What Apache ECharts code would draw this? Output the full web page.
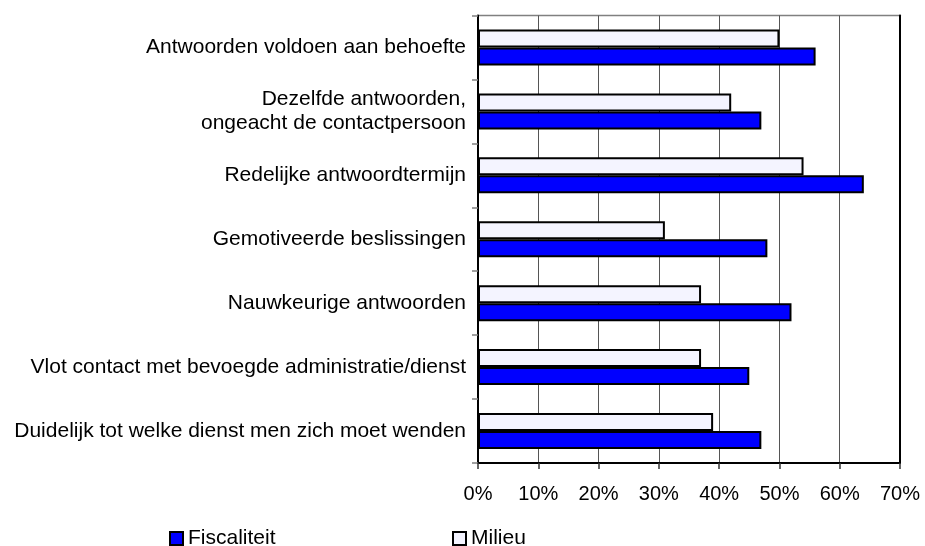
<!DOCTYPE html>
<html>
<head>
<meta charset="utf-8">
<script src="https://cdn.jsdelivr.net/npm/echarts@6/dist/echarts.min.js"></script>
<style>
html,body{margin:0;padding:0;background:#fff;}
#chart{width:925px;height:546px;}
</style>
</head>
<body>
<div id="chart"></div>
<script>
var categories = [
  'Antwoorden voldoen aan behoefte',
  'Dezelfde antwoorden,\nongeacht de contactpersoon',
  'Redelijke antwoordtermijn',
  'Gemotiveerde beslissingen',
  'Nauwkeurige antwoorden',
  'Vlot contact met bevoegde administratie/dienst',
  'Duidelijk tot welke dienst men zich moet wenden'
];
var fiscaliteit = [56, 47, 64, 48, 52, 45, 47];
var milieu = [50, 42, 54, 31, 37, 37, 39];
var xTicks = [0, 10, 20, 30, 40, 50, 60, 70];

var FONT = '"Liberation Sans", Arial, Helvetica, sans-serif';
var chart = echarts.init(document.getElementById('chart'), null, {renderer: 'canvas'});
var legendText = {fontSize: 21, color: '#000', fontFamily: FONT};
chart.setOption({
  animation: false,
  backgroundColor: '#fff',
  grid: {
    left: 478, right: 25, top: 15.5, bottom: 83,
    show: true, borderColor: '#808080', borderWidth: 1.5, backgroundColor: 'transparent'
  },
  legend: [
    {data: ['Fiscaliteit'], left: 164, top: 523, itemWidth: 13, itemHeight: 13,
     icon: 'rect', textStyle: legendText, itemStyle: {borderColor: '#000', borderWidth: 2}},
    {data: ['Milieu'], left: 447, top: 523, itemWidth: 13, itemHeight: 13,
     icon: 'rect', textStyle: legendText, itemStyle: {borderColor: '#000', borderWidth: 2}}
  ],
  xAxis: {
    type: 'value', min: xTicks[0], max: xTicks[xTicks.length - 1], interval: 10,
    axisLine: {show: true, lineStyle: {color: '#000', width: 2}},
    axisTick: {show: true, length: 6, lineStyle: {color: '#333', width: 1.5}},
    axisLabel: {formatter: '{value}%', fontSize: 20, color: '#000', fontFamily: FONT, margin: 21},
    splitLine: {show: true, lineStyle: {color: '#555', width: 1}}
  },
  yAxis: [
    {
      type: 'category', data: categories, inverse: true,
      axisLine: {show: true, lineStyle: {color: '#000', width: 2}},
      axisTick: {show: true, length: 6, lineStyle: {color: '#808080', width: 1.5}},
      axisLabel: {fontSize: 21, color: '#000', fontFamily: FONT, margin: 12, lineHeight: 24}
    },
    {
      type: 'category', data: categories, inverse: true, position: 'right',
      axisLine: {show: true, lineStyle: {color: '#000', width: 2}},
      axisTick: {show: false}, axisLabel: {show: false}
    }
  ],
  series: [
    {
      name: 'Milieu', type: 'bar', data: milieu, barWidth: 18, barGap: '0%',
      itemStyle: {color: '#F4F4FF', borderColor: '#000', borderWidth: 2}
    },
    {
      name: 'Fiscaliteit', type: 'bar', data: fiscaliteit, barWidth: 18, barGap: '0%',
      itemStyle: {color: '#0000FF', borderColor: '#000', borderWidth: 2}
    }
  ]
});
</script>
</body>
</html>
